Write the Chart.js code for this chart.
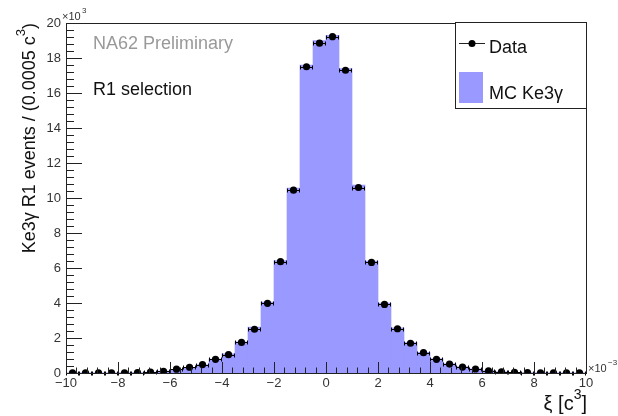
<!DOCTYPE html>
<html>
<head>
<meta charset="utf-8">
<script src="https://cdn.jsdelivr.net/npm/chart.js@4.4.1/dist/chart.umd.min.js"></script>
<style>
  html, body { margin: 0; padding: 0; background: #fff; }
</style>
</head>
<body>
<canvas id="chart" width="618" height="416"></canvas>
<script>
// bin centres of xi, in units of 1e-3 c^3 (bin width 0.5)
const xiBins = [
  -9.75, -9.25, -8.75, -8.25, -7.75, -7.25, -6.75, -6.25, -5.75, -5.25,
  -4.75, -4.25, -3.75, -3.25, -2.75, -2.25, -1.75, -1.25, -0.75, -0.25,
   0.25,  0.75,  1.25,  1.75,  2.25,  2.75,  3.25,  3.75,  4.25,  4.75,
   5.25,  5.75,  6.25,  6.75,  7.25,  7.75,  8.25,  8.75,  9.25,  9.75
];
// events per bin, in units of 1e3
const dataEvents = [
  0.01, 0.01, 0.01, 0.01, 0.015, 0.02, 0.05, 0.10, 0.22, 0.33,
  0.48, 0.78, 1.05, 1.75, 2.50, 3.98, 6.36, 10.45, 17.50, 18.85,
  19.22, 17.30, 10.60, 6.32, 3.92, 2.53, 1.70, 1.16, 0.78, 0.51,
  0.34, 0.23, 0.12, 0.07, 0.04, 0.02, 0.015, 0.01, 0.01, 0.01
];
const mcEvents = [
  0.01, 0.01, 0.01, 0.01, 0.015, 0.02, 0.05, 0.11, 0.21, 0.32,
  0.47, 0.80, 1.10, 1.78, 2.62, 4.05, 6.42, 10.57, 17.60, 19.00,
  19.30, 17.40, 10.74, 6.40, 4.00, 2.58, 1.74, 1.18, 0.82, 0.53,
  0.36, 0.24, 0.13, 0.07, 0.04, 0.02, 0.015, 0.01, 0.01, 0.01
];
const binHalfWidth = 0.25;
const xRange = [-10, 10];
const yRange = [0, 20];

const font = '"Liberation Sans", Arial, Helvetica, sans-serif';
const mcColor = 'rgb(153,153,255)';

function minusSign(v) {
  return v < 0 ? '\u2212' + Math.abs(v) : String(v);
}

// draws text pieces, [text, isSuperscript], right-aligned ending at x
function richTextRight(ctx, parts, x, y, size) {
  const widths = parts.map(([t, sup]) => {
    ctx.font = (sup ? Math.round(size * 0.7) : size) + 'px ' + font;
    return ctx.measureText(t).width;
  });
  let cx = x - widths.reduce((s, w) => s + w, 0);
  ctx.textAlign = 'left';
  parts.forEach(([t, sup], i) => {
    ctx.font = (sup ? Math.round(size * 0.7) : size) + 'px ' + font;
    ctx.fillText(t, cx, sup ? y - size * 0.55 : y);
    cx += widths[i];
  });
}

const rootStyle = {
  id: 'rootStyle',
  afterDatasetDraw(chart, args) {
    // horizontal error bars of the data, drawn before the markers
    if (args.index !== 1) return;
    const { ctx, scales: { x, y } } = chart;
    ctx.save();
    ctx.strokeStyle = '#000';
    ctx.lineWidth = 1;
    xiBins.forEach((c, i) => {
      const x0 = Math.round(x.getPixelForValue(c - binHalfWidth));
      const x1 = Math.round(x.getPixelForValue(c + binHalfWidth));
      const py = Math.round(y.getPixelForValue(dataEvents[i])) + 0.5;
      ctx.beginPath();
      ctx.moveTo(x0, py); ctx.lineTo(x1, py);
      ctx.moveTo(x0 + 0.5, py - 2); ctx.lineTo(x0 + 0.5, py + 2);
      ctx.moveTo(x1 - 0.5, py - 2); ctx.lineTo(x1 - 0.5, py + 2);
      ctx.stroke();
    });
    ctx.restore();
  },
  afterDatasetsDraw(chart) {
    const { ctx, chartArea: a, scales: { x, y } } = chart;
    ctx.save();
    ctx.strokeStyle = '#222';
    ctx.lineWidth = 1;
    ctx.strokeRect(a.left + 0.5, a.top + 0.5, a.right - a.left, a.bottom - a.top);

    // ticks inside the frame (10 primary, 5 secondary divisions)
    ctx.beginPath();
    for (let i = 0; i <= 50; i++) {
      const px = Math.round(x.getPixelForValue(xRange[0] + i * 0.4)) + 0.5;
      const len = i % 5 === 0 ? 11 : 5.5;
      ctx.moveTo(px, a.bottom); ctx.lineTo(px, a.bottom - len);
      const py = Math.round(y.getPixelForValue(yRange[0] + i * 0.4)) + 0.5;
      const ylen = i % 5 === 0 ? 16 : 8;
      ctx.moveTo(a.left, py); ctx.lineTo(a.left + ylen, py);
    }
    ctx.stroke();

    // axis multipliers
    ctx.fillStyle = '#333';
    ctx.textBaseline = 'alphabetic';
    ctx.font = '11px ' + font;
    ctx.fillText('\u00d710', 62, 20);
    ctx.font = '8px ' + font;
    ctx.fillText('3', 82, 13);
    ctx.font = '11px ' + font;
    ctx.fillText('\u00d710', 588, 372);
    ctx.font = '8px ' + font;
    ctx.fillText('\u22123', 608, 365);

    // axis titles
    ctx.fillStyle = '#111';
    richTextRight(ctx, [['\u03be [c', false], ['3', true], [']', false]], a.right + 1, 410, 20);
    ctx.save();
    ctx.translate(35, a.top);
    ctx.rotate(-Math.PI / 2);
    richTextRight(ctx, [['Ke3\u03b3 R1 events / (0.0005 c', false], ['3', true], [')', false]], 0, 0, 18);
    ctx.restore();

    // labels
    ctx.font = '18px ' + font;
    ctx.textAlign = 'left';
    ctx.fillStyle = '#999';
    ctx.fillText('NA62 Preliminary', 93, 49);
    ctx.fillStyle = '#111';
    ctx.fillText('R1 selection', 93, 95);

    // legend
    ctx.fillStyle = '#fff';
    ctx.fillRect(455, 23, a.right - 455, 86);
    ctx.strokeStyle = '#222';
    ctx.strokeRect(455.5, 22.5, a.right - 455, 86);
    ctx.beginPath();
    ctx.moveTo(459, 43.5); ctx.lineTo(485, 43.5);
    ctx.stroke();
    ctx.fillStyle = '#000';
    ctx.beginPath();
    ctx.arc(472, 43.5, 3.5, 0, Math.PI * 2);
    ctx.fill();
    ctx.fillStyle = mcColor;
    ctx.fillRect(459, 72, 24, 31);
    ctx.fillStyle = '#111';
    ctx.fillText('Data', 489, 53);
    ctx.fillText('MC Ke3\u03b3', 489, 99);
    ctx.restore();
  }
};

new Chart(document.getElementById('chart'), {
  data: {
    datasets: [
      {
        type: 'line',
        label: 'Data',
        data: xiBins.map((c, i) => ({ x: c, y: dataEvents[i] })),
        showLine: false,
        pointRadius: 3.6,
        pointBackgroundColor: '#000',
        pointBorderWidth: 0,
        order: 1
      },
      {
        type: 'bar',
        label: 'MC Ke3\u03b3',
        data: xiBins.map((c, i) => ({ x: c, y: mcEvents[i] })),
        backgroundColor: mcColor,
        borderWidth: 0,
        barPercentage: 1.0,
        categoryPercentage: 1.0,
        grouped: false,
        order: 2
      }
    ]
  },
  options: {
    responsive: false,
    animation: false,
    layout: { padding: { top: 23, right: 32, left: 0, bottom: 0 } },
    plugins: { legend: { display: false }, tooltip: { enabled: false } },
    scales: {
      x: {
        type: 'linear',
        min: xRange[0], max: xRange[1],
        offset: false,
        grid: { display: false, drawTicks: false },
        border: { display: false },
        ticks: {
          stepSize: 2, padding: 3, color: '#333',
          font: { family: font, size: 13 },
          maxRotation: 0,
          callback: v => minusSign(v)
        },
        afterFit: s => { s.height = 43; }
      },
      y: {
        type: 'linear',
        min: yRange[0], max: yRange[1],
        grid: { display: false, drawTicks: false },
        border: { display: false },
        ticks: {
          stepSize: 2, padding: 5, color: '#333',
          font: { family: font, size: 13 }
        },
        afterFit: s => { s.width = 66; }
      }
    }
  },
  plugins: [rootStyle]
});
</script>
</body>
</html>
